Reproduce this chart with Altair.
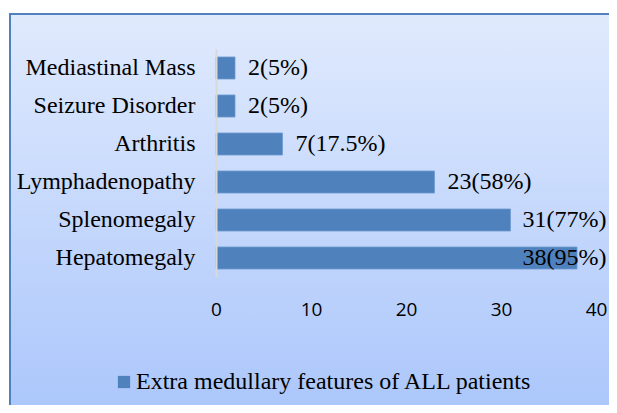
import altair as alt
import pandas as pd

features = ["Mediastinal Mass", "Seizure Disorder", "Arthritis", "Lymphadenopathy", "Splenomegaly", "Hepatomegaly"]
counts = [2, 2, 7, 23, 31, 38]
percents = ["5%", "5%", "17.5%", "58%", "77%", "95%"]
series_name = "Extra medullary features of ALL patients"
x_ticks = [0, 10, 20, 30, 40]

df = pd.DataFrame({
    "feature": features,
    "count": counts,
    "label": [f"{c}({p})" for c, p in zip(counts, percents)],
    "series": [series_name] * len(features),
})

W, H = 380, 228
PAD = {"left": 208, "top": 41, "right": 13, "bottom": 128}

grad = alt.LinearGradient(
    gradient="linear",
    stops=[alt.GradientStop(color="#e0eafd", offset=0),
           alt.GradientStop(color="#a6c3fb", offset=1)],
    x1=0, x2=0, y1=0, y2=1,
)

bg = alt.Chart(df).mark_rect(color=grad, stroke="#4f81bd", strokeWidth=2).encode(
    x=alt.value(-206), x2=alt.value(440), y=alt.value(-35), y2=alt.value(400)
).transform_filter(alt.datum.feature == "Hepatomegaly")

y_enc = alt.Y("feature:N", sort=features,
              scale=alt.Scale(paddingInner=0.42, paddingOuter=0.21),
              axis=alt.Axis(title=None, ticks=False, domainColor="#d9d9d9", domainWidth=2,
                            labelFont="Liberation Serif", labelFontSize=24, labelColor="#000000",
                            labelPadding=21, zindex=1, labelLimit=300))

x_enc = alt.X("count:Q", scale=alt.Scale(domain=[0, 40], nice=False),
              axis=alt.Axis(title=None, values=x_ticks, grid=False, domain=False, ticks=False,
                            labelFont="Open Sans", labelFontSize=19, labelColor="#000000",
                            labelPadding=23, labelFlush=False, zindex=1))

bars = alt.Chart(df).mark_bar(stroke="#6f9ad0", strokeWidth=0.8).encode(
    x=x_enc, y=y_enc,
    color=alt.Color("series:N", scale=alt.Scale(range=["#4f81bd"]),
                    legend=alt.Legend(title=None, orient="none", legendX=-104, legendY=321,
                                      symbolType="square", symbolSize=150, symbolStrokeWidth=0,
                                      labelOffset=0,
                                      labelFont="Liberation Serif", labelFontSize=24,
                                      labelColor="#000000", labelLimit=600)),
)

labels = alt.Chart(df).mark_text(align="left", baseline="middle", dx=13,
                                 font="Liberation Serif", fontSize=24, color="#000000").transform_calculate(
    lx="min(datum.count, 30.9)"
).encode(
    x=alt.X("lx:Q", scale=alt.Scale(domain=[0, 40], nice=False)),
    y=alt.Y("feature:N", sort=features),
    text="label:N",
)

chart = alt.layer(bg, bars, labels).properties(
    width=W, height=H, padding=PAD,
    autosize=alt.AutoSizeParams(type="none"),
).configure_view(strokeWidth=0, clip=False).configure(background="#ffffff")

chart.save("out.html", embed_options={"renderer": "svg", "actions": False})
